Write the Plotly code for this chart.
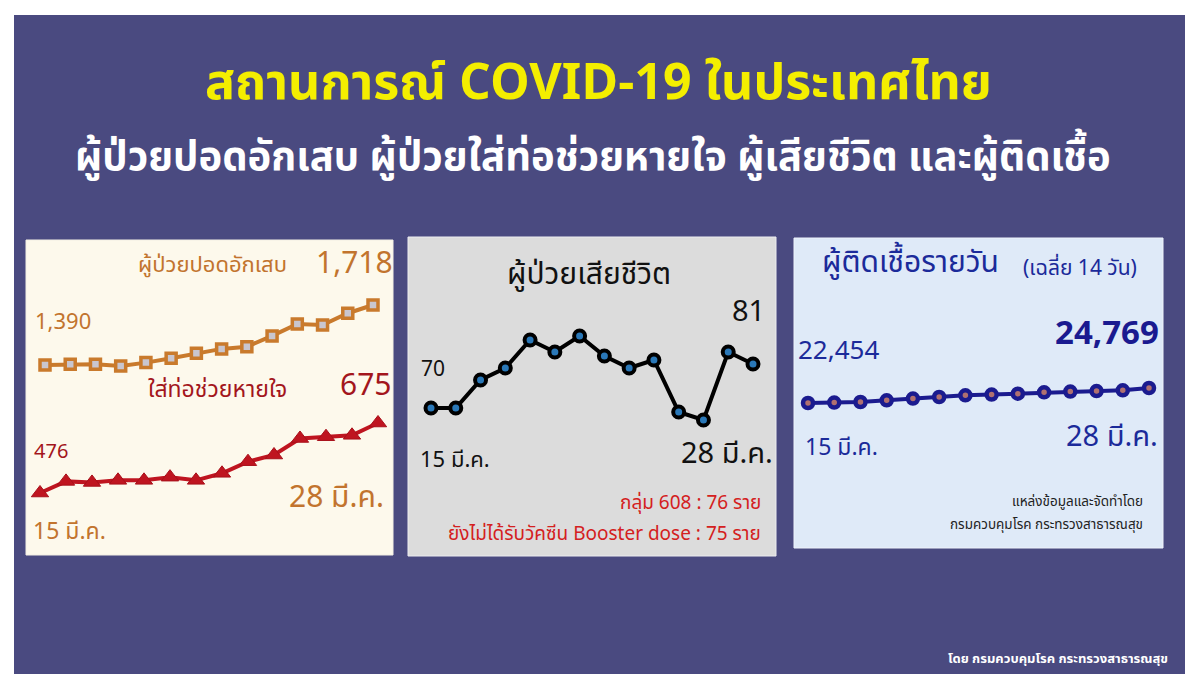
import plotly.graph_objects as go

# The page puts the figure 8px in from the top-left corner, so the figure is
# sized to fill the rest of the 1200x684 window and positions are given in
# window pixels, then converted.
OFF = 8
FW, FH = 1200 - OFF, 684 - OFF

# ---------------- data ----------------
days = [15, 16, 17, 18, 19, 20, 21, 22, 23, 24, 25, 26, 27, 28]          # March (มี.ค.)
pneumonia = [1390, 1394, 1394, 1385, 1403, 1427, 1454, 1478, 1490, 1549, 1614, 1609, 1673, 1718]
ventilator = [476, 509, 506, 512, 512, 521, 512, 532, 565, 584, 631, 636, 640, 675]
deaths = [70, 70, 77, 80, 87, 84, 88, 83, 80, 82, 69, 67, 84, 81]
infected_avg14 = [22454, 22516, 22608, 22870, 23130, 23380, 23640, 23750, 23900, 24100,
                  24210, 24300, 24410, 24769]
date_labels = ["15 มี.ค.", "28 มี.ค."]

THAI = "Noto Sans Thai, Noto Sans Thai UI, Noto Sans, Tahoma, sans-serif"
BG = "#4a4a80"

# panel rectangles in window pixels (left, top, right, bottom)
P1 = (26, 240, 393, 555)
P2 = (408, 237, 776, 556)
P3 = (794, 238, 1163, 548)


def px(x):
    return (x - OFF) / FW


def py(y):
    return 1 - (y - OFF) / FH


def lin(p, a0, a1, v0, v1):
    return v0 + (p - a0) * (v1 - v0) / (a1 - a0)


def axes_for(panel, xa, ya, vals):
    """xa: pixel of first/last day; ya: pixel of first/last value"""
    l, t, r, b = panel
    xr = [lin(l, xa[0], xa[1], days[0], days[-1]), lin(r, xa[0], xa[1], days[0], days[-1])]
    yr = [lin(b, ya[0], ya[1], vals[0], vals[-1]), lin(t, ya[0], ya[1], vals[0], vals[-1])]
    common = dict(visible=False, showgrid=False, zeroline=False, fixedrange=True)
    return (dict(domain=[px(l), px(r)], range=xr, **common),
            dict(domain=[py(b), py(t)], range=yr, **common))


fig = go.Figure()

series = [
    (P1, (45, 373), (365, 305), pneumonia,
     dict(color="#c97a2c", width=4),
     dict(symbol="square", size=10, color="#c9c6cf", line=dict(color="#c97a2c", width=3.5))),
    (P1, (40, 378), (493, 423), ventilator,
     dict(color="#bf1520", width=4),
     dict(symbol="triangle-up", size=15, color="#bf1520", line=dict(color="#a8101a", width=1))),
    (P2, (431, 753), (408, 364), deaths,
     dict(color="#000000", width=4),
     dict(symbol="circle", size=11, color="#2a78b8", line=dict(color="#000000", width=4))),
    (P3, (808, 1149), (403, 388), infected_avg14,
     dict(color="#1b1b8f", width=4),
     dict(symbol="circle", size=10, color="#b07070", line=dict(color="#1b1b8f", width=4.5))),
]

layout_axes = {}
for i, (panel, xa, ya, vals, ln, mk) in enumerate(series, start=1):
    xax, yax = axes_for(panel, xa, ya, vals)
    sfx = "" if i == 1 else str(i)
    xax["anchor"] = "y" + sfx
    yax["anchor"] = "x" + sfx
    layout_axes["xaxis" + sfx] = xax
    layout_axes["yaxis" + sfx] = yax
    fig.add_trace(go.Scatter(
        x=days, y=vals, mode="lines+markers", line=ln, marker=mk,
        xaxis="x" + sfx, yaxis="y" + sfx, cliponaxis=False, showlegend=False,
        hoverinfo="x+y"))

shapes = [
    dict(type="rect", xref="paper", yref="paper", x0=px(14), x1=px(1185),
         y0=py(674), y1=py(15), fillcolor=BG, line=dict(width=0), layer="below"),
]
for panel, fill, edge in [(P1, "#fdf9ec", "#f3efe4"), (P2, "#dcdcdc", "#ececf0"), (P3, "#dfeaf8", "#eef3fb")]:
    l, t, r, b = panel
    shapes.append(dict(type="rect", xref="paper", yref="paper", x0=px(l), x1=px(r),
                       y0=py(b), y1=py(t), fillcolor=fill,
                       line=dict(color=edge, width=1), layer="below"))

annotations = []


def ann(text, x, y, size, color, bold=False, xanchor="center", family=THAI):
    if bold:
        text = "<b>" + text + "</b>"
    annotations.append(dict(text=text, x=px(x), y=py(y), xref="paper", yref="paper",
                            xanchor=xanchor, yanchor="middle", showarrow=False,
                            font=dict(size=size, color=color, family=family)))


# titles
ann("สถานการณ์ COVID-19 ในประเทศไทย", 598, 84, 50, "#f4ee00", bold=True)
ann("ผู้ป่วยปอดอักเสบ ผู้ป่วยใส่ท่อช่วยหายใจ ผู้เสียชีวิต และผู้ติดเชื้อ", 593, 158, 40, "#ffffff", bold=True)
ann("โดย กรมควบคุมโรค กระทรวงสาธารณสุข", 1170, 659, 13, "#ffffff", bold=True, xanchor="right")

# panel 1
OR = "#c2742e"
RD = "#a3161c"
ann("ผู้ป่วยปอดอักเสบ", 212, 265, 22, OR)
ann(f"{pneumonia[-1]:,}", 354, 264, 30, OR)
ann(f"{pneumonia[0]:,}", 63, 322, 22, OR)
ann("ใส่ท่อช่วยหายใจ", 217, 390, 23, RD)
ann(f"{ventilator[-1]:,}", 365, 386, 30, RD)
ann(f"{ventilator[0]:,}", 51, 452, 20, RD)
ann(date_labels[1], 336, 498, 30, OR)
ann(date_labels[0], 69, 532, 23, OR)

# panel 2
ann("ผู้ป่วยเสียชีวิต", 589, 275, 30, "#111111")
ann(f"{deaths[-1]}", 748, 312, 29, "#111111")
ann(f"{deaths[0]}", 433, 369, 21, "#111111")
ann(date_labels[0], 455, 460, 22, "#111111")
ann(date_labels[1], 727, 454, 29, "#111111")
ann("กลุ่ม 608 : 76 ราย", 763, 503, 19, "#d42020", xanchor="right")
ann("ยังไม่ได้รับวัคซีน Booster dose : 75 ราย", 763, 534, 19, "#d42020", xanchor="right")

# panel 3
BL = "#1b2a9a"
ann("ผู้ติดเชื้อรายวัน", 820, 263, 30, BL, xanchor="left")
ann("(เฉลี่ย 14 วัน)", 1080, 268, 21, BL)
ann(f"{infected_avg14[0]:,}", 838, 351, 26, BL)
ann(f"{infected_avg14[-1]:,}", 1107, 334, 33, "#1a1a90", bold=True)
ann(date_labels[0], 841, 448, 23, BL)
ann(date_labels[1], 1112, 437, 29, BL)
ann("แหล่งข้อมูลและจัดทำโดย", 1145, 502, 13.5, "#222222", xanchor="right")
ann("กรมควบคุมโรค กระทรวงสาธารณสุข", 1145, 525, 13.5, "#222222", xanchor="right")

fig.update_layout(
    width=FW, height=FH, margin=dict(l=0, r=0, t=0, b=0),
    paper_bgcolor="#ffffff", plot_bgcolor="rgba(0,0,0,0)",
    shapes=shapes, annotations=annotations, showlegend=False,
    **layout_axes,
)

fig.write_html("out.html", config={"displayModeBar": False})
